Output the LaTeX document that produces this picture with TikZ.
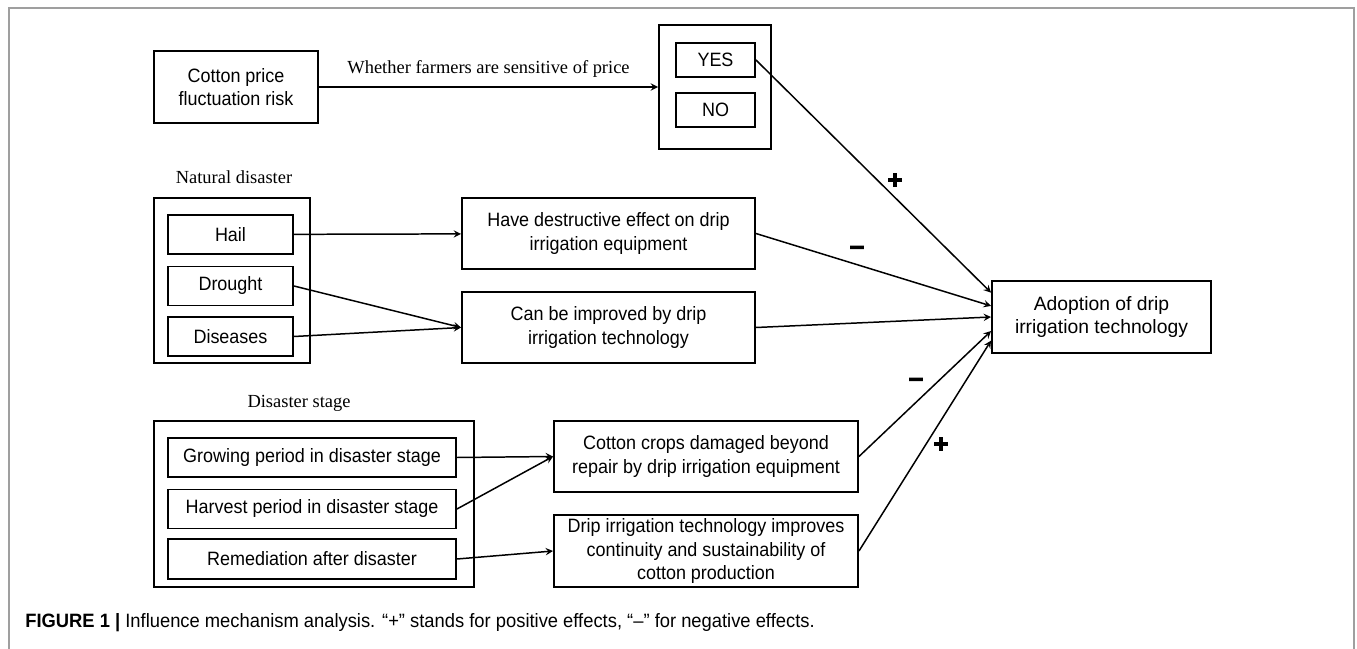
\documentclass[tikz,border=0pt]{standalone}
\usepackage{fontspec}
\setmainfont{Liberation Serif}
\newfontfamily\boxfont[FakeStretch=0.93]{Liberation Sans}
\newfontfamily\widefont{Liberation Sans}
\newfontfamily\signfont[FakeBold=6]{DejaVu Sans Bold}
\newfontfamily\capfont[FakeStretch=0.95]{Liberation Sans}
\usetikzlibrary{calc}

\tikzset{
  sz/.style 2 args={minimum width=#1*0.02cm, minimum height=#2*0.02cm},
  box/.style={draw, line width=1.1pt, inner sep=0pt, align=center,
    font=\boxfont\fontsize{11}{13.2}\selectfont},
  grp/.style={draw, line width=1.1pt, inner sep=0pt},
  lab/.style={font=\fontsize{10.5}{12}\selectfont, inner sep=0pt},
  sign/.style={font=\signfont\fontsize{11.5}{11.5}\selectfont, inner sep=0pt},
  conn/.style={->, line width=0.85pt},
}

\begin{document}
\begin{tikzpicture}[x=0.02cm, y=-0.02cm, >=stealth]
  \useasboundingbox (0,0) rectangle (1357,649);
  \draw[gray!75, line width=0.6pt] (9,649) -- (9,8) -- (1354,8) -- (1354,649);

  % price risk
  \path
    (236,87)    node[box, sz={164}{72}] (price) {Cotton price\\fluctuation risk}
    (715,87)    node[grp, sz={112}{124}] (sens) {}
    (715.5,60)  node[box, sz={79}{34}] (yes) {YES}
    (715.5,110) node[box, sz={79}{34}] (no) {NO};

  % natural disaster
  \path
    (234,177)   node[lab] (natlab) {Natural disaster}
    (232,280.5) node[grp, sz={156}{165}] (nat) {}
    (230.5,234.5) node[box, sz={125}{39}] (hail) {Hail}
    (230.5,286)   node[box, sz={125}{39}] (drought) {Drought}
    (230.5,336.5) node[box, sz={125}{39}] (disease) {Diseases}
    (608.5,233.5) node[box, sz={293}{71}] (destroy) {Have destructive effect on drip\\irrigation equipment}
    (608.5,327.5) node[box, sz={293}{71}] (improve) {Can be improved by drip\\irrigation technology};

  % disaster stage
  \path
    (299,403)   node[lab] (stagelab) {Disaster stage}
    (314,504)   node[grp, sz={320}{166}] (stage) {}
    (312,457.5) node[box, sz={288}{39}] (grow) {Growing period in disaster stage}
    (312,509)   node[box, sz={288}{39}] (harvest) {Harvest period in disaster stage}
    (312,559)   node[box, sz={288}{40}] (remedy) {Remediation after disaster}
    (706,456.5) node[box, sz={304}{71}] (damage) {Cotton crops damaged beyond\\repair by drip irrigation equipment}
    (706,551)   node[box, sz={304}{72}] (sustain) {Drip irrigation technology improves\\continuity and sustainability of\\cotton production};

  \node[box, sz={219}{72}, font=\widefont\fontsize{11}{13.5}\selectfont] (adopt) at (1101.5,317)
    {Adoption of drip\\irrigation technology};

  \draw[conn] (price) -- node[lab, above=5pt] {Whether farmers are sensitive of price} (sens);
  \draw[conn] (hail) -- (destroy);
  \draw[conn] (drought.east) -- (improve.west);
  \draw[conn] (disease.east) -- (improve.west);
  \draw[conn] (grow.east) -- (damage.west);
  \draw[conn] (harvest.east) -- (damage.west);
  \draw[conn] (remedy.east) -- (sustain.west);

  \draw[conn] (yes.east) -- ($(adopt.north west)!0.17!(adopt.south west)$);
  \draw[conn] (destroy.east) -- ($(adopt.north west)!0.35!(adopt.south west)$);
  \draw[conn] (improve.east) -- (adopt.west);
  \draw[conn] (damage.east) -- ($(adopt.north west)!0.69!(adopt.south west)$);
  \draw[conn] (sustain.east) -- ($(adopt.north west)!0.82!(adopt.south west)$);

  \node[sign] (s1) at (895,180) {+};
  \node[sign] (s2) at (857,250) {−};
  \node[sign] (s3) at (916,382) {−};
  \node[sign] (s4) at (941,444) {+};

  \node[anchor=west, inner sep=0pt, font=\capfont\fontsize{11}{13}\selectfont] (cap) at (25,623)
    {\textbf{FIGURE 1 |} Influence mechanism analysis. “+” stands for positive effects, “–” for negative effects.};
\end{tikzpicture}
\end{document}
